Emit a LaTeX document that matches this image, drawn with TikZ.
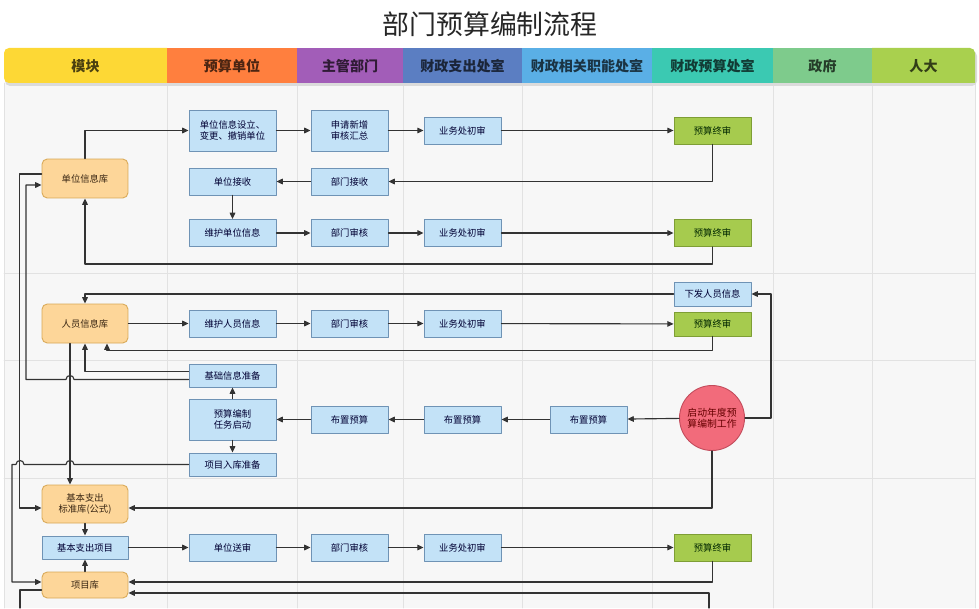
\documentclass[tikz,border=0pt]{standalone}
\usepackage{fontspec}
\setmainfont{Noto Sans CJK SC}
\usetikzlibrary{calc,positioning,arrows.meta}

\definecolor{hA}{HTML}{FDD835}
\definecolor{hB}{HTML}{FF7F3E}
\definecolor{hC}{HTML}{A25DB8}
\definecolor{hD}{HTML}{5B7EC2}
\definecolor{hE}{HTML}{5AAFE6}
\definecolor{hF}{HTML}{3BC9B2}
\definecolor{hG}{HTML}{7ECB8C}
\definecolor{hH}{HTML}{A9D04E}
\definecolor{lanebg}{HTML}{F7F7F7}
\definecolor{laneln}{HTML}{E2E2E2}
\definecolor{bluefill}{HTML}{C3E2F7}
\definecolor{blueedge}{HTML}{6F93B5}
\definecolor{greenfill}{HTML}{A6CB4E}
\definecolor{greenedge}{HTML}{7E9E35}
\definecolor{modfill}{HTML}{FDD699}
\definecolor{modedge}{HTML}{D8A855}
\definecolor{startfill}{HTML}{F26B7B}
\definecolor{startedge}{HTML}{C24B5B}
\definecolor{lineclr}{HTML}{333333}

\begin{document}
\begin{tikzpicture}[x=0.02cm,y=-0.02cm,font=\rmfamily, line cap=round, line join=round]

% ---------- styles ----------
\tikzset{
  lane/.style={draw=laneln, line width=0.5pt},
  htext/.style={font=\fontsize{8}{9}\selectfont\bfseries, text=black, text opacity=0.7},
  blk/.style={draw=blueedge, fill=bluefill, line width=0.5pt, inner sep=0pt,
    minimum width=1.54cm, minimum height=0.54cm, align=center,
    font=\fontsize{5.3}{6.3}\selectfont, text=black!80!blue},
  wA/.style={minimum width=1.74cm},
  tall/.style={minimum height=0.82cm},
  fin/.style={blk, draw=greenedge, fill=greenfill, text=black!85!green},
  mod/.style={blk, draw=modedge, fill=modfill, rounded corners=3pt,
    minimum width=1.72cm, minimum height=0.78cm, text=black!70!brown},
  startc/.style={circle, draw=startedge, fill=startfill, line width=0.5pt, inner sep=0pt,
    minimum size=1.3cm, align=center, font=\fontsize{5.6}{6.4}\selectfont, text=black!60!red},
  flow/.style={draw=lineclr, line width=0.65pt, -{Triangle[length=3.6pt,width=3.2pt]}},
  conn/.style={draw=lineclr, line width=0.65pt},
}

\useasboundingbox (0,0) rectangle (979,608);

% ---------- title ----------
\node[font=\fontsize{15.3}{17}\selectfont, text=black!85] (title) at (490,24) {部门预算编制流程};

% ---------- lanes ----------
\fill[lanebg] (4,83) rectangle (975,608);
\foreach \x in {4,167,297,403,522,652,773,872,975}
  \draw[lane] (\x,83) -- (\x,608);
\foreach \y in {273,360,478}
  \draw[lane] (4,\y) -- (975,\y);

% ---------- header ----------
\fill[black!14, rounded corners=0.1cm] (5,51) rectangle (977,86);
\fill[hA] (167,48) -- (167,83) [rounded corners=0.1cm] -- (4,83) -- (4,48) -- (90,48) [sharp corners] -- (167,48) -- cycle;
\fill[hB] (167,48) rectangle (297,83);
\fill[hC] (297,48) rectangle (403,83);
\fill[hD] (403,48) rectangle (522,83);
\fill[hE] (522,48) rectangle (652,83);
\fill[hF] (652,48) rectangle (773,83);
\fill[hG] (773,48) rectangle (872,83);
\fill[hH] (872,48) -- (872,83) -- (975,83) [rounded corners=0.1cm] -- (975,48) -- (920,48) [sharp corners] -- (872,48) -- cycle;

\node[htext] (hmod) at (85.5,66) {模块};
\node[htext] (hunit) at (232,66) {预算单位};
\node[htext] (hdept) at (350,66) {主管部门};
\node[htext] (hout) at (462.5,66) {财政支出处室};
\node[htext] (hrel) at (587,66) {财政相关职能处室};
\node[htext] (hbud) at (712.5,66) {财政预算处室};
\node[htext] (hgov) at (822.5,66) {政府};
\node[htext] (hnpc) at (923.5,66) {人大};

% ---------- module column ----------
\node[mod] (ulib) at (85,178.5) {单位信息库};
\node[mod] (plib) at (85,323.5) {人员信息库};
\node[mod, minimum height=0.76cm] (std) at (85,504) {基本支出\\标准库(公式)};
\node[blk, minimum width=1.72cm, minimum height=0.46cm] (basic) at (85,547.5) {基本支出项目};
\node[mod, minimum height=0.52cm] (plist) at (85,585) {项目库};

% ---------- 预算单位 ----------
\node[blk, wA, tall] (uset) at (232.5,130.5) {单位信息设立、\\变更、撤销单位};
\node[blk, wA] (urecv) at (232.5,181.5) {单位接收};
\node[blk, wA] (umaint) at (232.5,233) {维护单位信息};
\node[blk, wA] (pmaint) at (232.5,323.5) {维护人员信息};
\node[blk, wA, minimum height=0.46cm] (base) at (232.5,375.5) {基础信息准备};
\node[blk, wA, tall] (task) at (232.5,419.5) {预算编制\\任务启动};
\node[blk, wA, minimum height=0.46cm] (proj) at (232.5,464.5) {项目入库准备};
\node[blk, wA] (usend) at (232.5,547.5) {单位送审};

% ---------- 主管部门 ----------
\node[blk, tall] (dsum) at (349.5,130.5) {申请新增\\审核汇总};
\node[blk] (drecv) at (349.5,181.5) {部门接收};
\node[blk] (dchkA) at (349.5,233) {部门审核};
\node[blk] (dchkB) at (349.5,323.5) {部门审核};
\node[blk] (darr) at (349.5,419.5) {布置预算};
\node[blk] (dchkC) at (349.5,547.5) {部门审核};

% ---------- 财政支出处室 ----------
\node[blk] (ochkA) at (462.5,130.5) {业务处初审};
\node[blk] (ochkB) at (462.5,233) {业务处初审};
\node[blk] (ochkC) at (462.5,323.5) {业务处初审};
\node[blk] (oarr) at (462.5,419.5) {布置预算};
\node[blk] (ochkD) at (462.5,547.5) {业务处初审};

% ---------- 财政相关职能处室 ----------
\node[blk] (rarr) at (588.5,419.5) {布置预算};

% ---------- 财政预算处室 ----------
\node[fin] (finA) at (712.5,130.5) {预算终审};
\node[fin] (finB) at (712.5,233) {预算终审};
\node[blk, minimum height=0.48cm] (issue) at (712.5,294) {下发人员信息};
\node[fin, minimum height=0.48cm] (finC) at (712.5,324) {预算终审};
\node[startc] (launch) at (712,418) {启动年度预\\算编制工作};
\node[fin] (finD) at (712.5,547.5) {预算终审};

% ---------- unit info flow ----------
\draw[flow] (ulib.north) |- (uset.west);
\draw[flow] (uset) -- (dsum);
\draw[flow] (dsum) -- (ochkA);
\draw[flow] (ochkA) -- (finA);
\draw[flow] (finA.south) |- (drecv.east);
\draw[flow] (drecv) -- (urecv);
\draw[flow] (urecv) -- (umaint);
\draw[flow] (umaint) -- (dchkA);
\draw[flow] (dchkA) -- (ochkB);
\draw[flow] (ochkB) -- (finB);
\draw[flow] (finB.south) -- ++(0,17) -| (ulib.south);

% ---------- personnel flow ----------
\draw[flow] (plib) -- (pmaint);
\draw[flow] (pmaint) -- (dchkB);
\draw[flow] (dchkB) -- (ochkC);
\draw[flow] (ochkC) -- (finC);
\draw[flow] (finC.south) -- ++(0,14) -| ($(plib.south)+(22,0)$);
\draw[flow] (issue.west) -| (plib.north);
\draw[flow] (launch.east) -- ++(26,0) |- (issue.east);

% ---------- task start ----------
\draw[flow] (launch) -- (rarr);
\draw[flow] (rarr) -- (oarr);
\draw[flow] (oarr) -- (darr);
\draw[flow] (darr) -- (task);
\draw[flow] (task) -- (base);
\draw[flow] (task) -- (proj);
\draw[flow] ($(base.west)+(0,-4)$) -| (plib.south);
\draw[flow] ($(base.west)+(0,4)$) -- (74,379.5) .. controls (74,374.2) and (66,374.2) .. (66,379.5)
  -- (26,379.5) |- ($(ulib.west)+(0,6.5)$);
\draw[flow] ($(plib.south)+(-15,0)$) -- ($(std.north)+(-15,0)$);
\draw[flow] ($(ulib.west)+(0,-4.5)$) -- ++(-22,0) |- ($(std.west)+(0,4)$);
\draw[flow] (launch.south) |- ($(std.east)+(0,4)$);
\draw[flow] (proj.west) -- (74,464.5) .. controls (74,459.2) and (66,459.2) .. (66,464.5)
  -- (24,464.5) .. controls (24,459.2) and (16,459.2) .. (16,464.5)
  -- (12,464.5) |- ($(plist.west)+(0,-3)$);

% ---------- basic expenditure ----------
\draw[flow] (std) -- (basic);
\draw[flow] (plist) -- (basic);
\draw[flow] (basic) -- (usend);
\draw[flow] (usend) -- (dchkC);
\draw[flow] (dchkC) -- (ochkD);
\draw[flow] (ochkD) -- (finD);
\draw[flow] (finD.south) |- ($(plist.east)+(0,-3)$);
\coordinate (offR) at (709,608);
\coordinate (offL) at (20,608);
\draw[flow] (offR) |- ($(plist.east)+(0,8)$);
\draw[conn] ($(plist.west)+(0,5)$) -| (offL);

\end{tikzpicture}
\end{document}
